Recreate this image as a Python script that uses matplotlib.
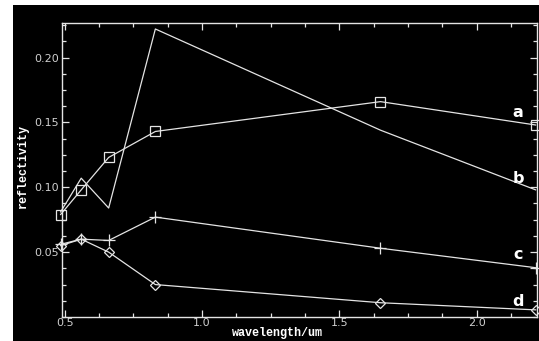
import matplotlib
matplotlib.use("Agg")
import matplotlib.pyplot as plt
from matplotlib.patches import Rectangle
from matplotlib.ticker import MultipleLocator, FixedLocator

# TM band centres (um) and reflectivity per curve
wavelength = [0.485, 0.56, 0.66, 0.83, 1.65, 2.215]
refl_a = [0.079, 0.098, 0.123, 0.143, 0.166, 0.148]
refl_b = [0.081, 0.107, 0.084, 0.222, 0.144, 0.098]
refl_c = [0.056, 0.060, 0.059, 0.077, 0.053, 0.038]
refl_d = [0.055, 0.060, 0.050, 0.025, 0.011, 0.0055]

curve_names = ["a", "b", "c", "d"]
name_pos_y = [0.158, 0.107, 0.048, 0.0116]

x_ticks = [0.5, 1.0, 1.5, 2.0]
y_ticks = [0.05, 0.10, 0.15, 0.20]

FG = "#e4e4e4"
TICK_FG = "#cfcfcf"

fig = plt.figure(figsize=(5.39, 3.41), dpi=100, facecolor="white")
fig.add_artist(Rectangle((13 / 539, 0), 1 - 13 / 539, 1 - 5 / 341,
                         transform=fig.transFigure, facecolor="black",
                         edgecolor="none", zorder=0))

ax = fig.add_axes([62 / 539, 24 / 341, 475 / 539, 294.5 / 341])
ax.set_facecolor("black")

line_kw = dict(color=FG, lw=0.9, clip_on=False, mfc="none", mec=FG)
ax.plot(wavelength, refl_a, marker="s", ms=7.5, mew=0.9, **line_kw)
ax.plot(wavelength, refl_b, **line_kw)
ax.plot(wavelength, refl_c, marker="+", ms=9, mew=0.9, **line_kw)
ax.plot(wavelength, refl_d, marker="D", ms=5.5, mew=0.9, **line_kw)

for name, yv in zip(curve_names, name_pos_y):
    ax.text(2.151, yv, name, color="white", fontsize=11.5, fontweight="bold",
            ha="center", va="center", family="DejaVu Sans")

ax.set_xlim(0.49, 2.22)
ax.set_ylim(0.0, 0.227)

ax.xaxis.set_major_locator(FixedLocator(x_ticks))
ax.xaxis.set_minor_locator(MultipleLocator(0.125))
ax.yaxis.set_major_locator(FixedLocator(y_ticks))
ax.yaxis.set_minor_locator(MultipleLocator(0.0125))
ax.set_xticklabels([f"{v:.1f}" for v in x_ticks])
ax.set_yticklabels([f"{v:.2f}" for v in y_ticks])

for spine in ax.spines.values():
    spine.set_color(FG)
    spine.set_linewidth(1.0)

ax.tick_params(which="both", direction="in", top=True, right=True,
               color=FG, width=0.9, labelcolor=TICK_FG, labelsize=8)
ax.tick_params(axis="x", pad=1)
ax.tick_params(axis="y", pad=2)
ax.tick_params(which="major", length=5)
ax.tick_params(which="minor", length=3)

# axis titles placed directly so they sit tight against the frame
fig.text(277 / 539, 1 - 333 / 341, "wavelength/um", color="white",
         family="Liberation Mono", fontweight="bold", fontsize=8.5,
         ha="center", va="center")
fig.text(23 / 539, 1 - 166 / 341, "reflectivity", color="white",
         family="Liberation Mono", fontweight="bold", fontsize=8.5,
         ha="center", va="center", rotation=90)

fig.savefig("out.png", dpi=100, facecolor="white")
